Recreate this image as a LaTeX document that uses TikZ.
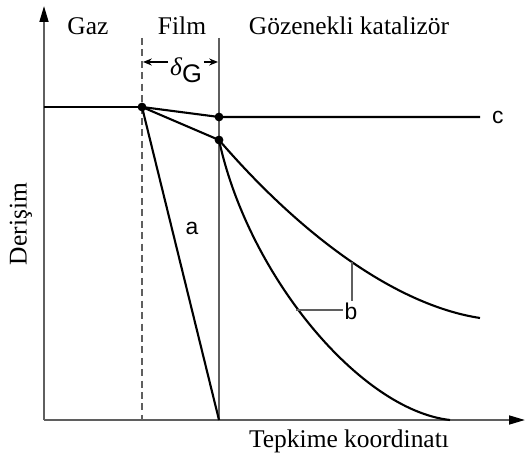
\documentclass[tikz,border=0pt]{standalone}
\usepackage{fontspec}
\setmainfont{Liberation Serif}
\newfontfamily\harfyazi{Liberation Sans}
\usepackage{xcolor}
\usetikzlibrary{arrows.meta, positioning}
\definecolor{eksenRengi}{RGB}{95,95,95}

\begin{document}
\begin{tikzpicture}[x=0.02cm, y=-0.02cm, node distance=0.15cm,
    every node/.style={font=\fontsize{14.5}{16}\selectfont, inner sep=1pt}]
    \tikzstyle{eksen}=[line width=1.1pt, draw=eksenRengi,
      -{Triangle[length=9pt, width=5pt, color=black]}]
    \tikzstyle{sinir}=[line width=0.9pt, draw=eksenRengi]
    \tikzstyle{egri}=[line width=1.2pt, draw=black]
    \tikzstyle{nokta}=[circle, fill=black, inner sep=0pt, minimum size=5pt]
    \tikzstyle{harf}=[font=\harfyazi\fontsize{13}{15}\selectfont]
    \useasboundingbox (0,0) rectangle (526,455);
    % eksenler
    \coordinate (o) at (44,420);
    \coordinate (yuc) at (44,6);
    \coordinate (xuc) at (525,420);
    \draw[eksen] (o) -- (yuc);
    \draw[eksen] (o) -- (xuc);
    \node[rotate=90] (derisim) at (21,224) {Derişim};
    \node (tepkime) at (349,441) {Tepkime koordinatı};
    % bolgeler
    \coordinate (filmUst) at (142,38);
    \coordinate (filmAlt) at (142,420);
    \coordinate (katUst) at (219,38);
    \coordinate (katAlt) at (219,420);
    \draw[sinir, dash pattern=on 4pt off 2.5pt] (filmUst) -- (filmAlt);
    \draw[sinir] (katUst) -- (katAlt);
    \node[anchor=base] (gaz) at (88,35) {Gaz};
    \node[anchor=base] (film) at (182,35) {Film};
    \node[anchor=base] (katalizor) at (349,35) {Gözenekli katalizör};
    % film kalinligi
    \coordinate (dSol) at (143,62);
    \coordinate (dSag) at (218,62);
    \node (delta) at (186,70) {{\itshape δ}\raisebox{-4pt}{\harfyazi G}};
    \draw[line width=0.8pt, -{Stealth[length=5pt, width=4pt]}] (delta.west |- dSol) -- (dSol);
    \draw[line width=0.8pt, -{Stealth[length=5pt, width=4pt]}] (delta.east |- dSag) -- (dSag);
    % derisim profilleri
    \coordinate (gazSol) at (44,107);
    \node[nokta] (yuzey) at (142,107) {};
    \node[nokta] (cNokta) at (219,117) {};
    \node[nokta] (bNokta) at (219,140) {};
    \coordinate (cSon) at (480,117);
    \coordinate (bUstSon) at (480,318);
    \coordinate (bAltSon) at (450,420);
    \draw[egri] (gazSol) -- (yuzey.center);
    \draw[egri] (yuzey.center) -- (cNokta.center) -- (cSon);
    \draw[egri] (yuzey.center) -- (bNokta.center);
    \draw[egri] (yuzey.center) -- (katAlt);
    \draw[egri] (bNokta.center) .. controls (300,234) and (395,305) .. (bUstSon);
    \draw[egri] (bNokta.center) .. controls (248,275) and (360,410) .. (bAltSon);
    % etiketler
    \node[harf, right=0.2cm of cSon] (c) {c};
    \node[harf] (a) at (192,228) {a};
    \node[harf] (b) at (351,311) {b};
    \coordinate (bUstTas) at (352,262);
    \coordinate (bAltTas) at (296,310);
    \draw[sinir, line width=0.6pt] (bUstTas) -- (b.north -| bUstTas);
    \draw[sinir, line width=0.6pt] (bAltTas) -- (b.west |- bAltTas);
\end{tikzpicture}
\end{document}
